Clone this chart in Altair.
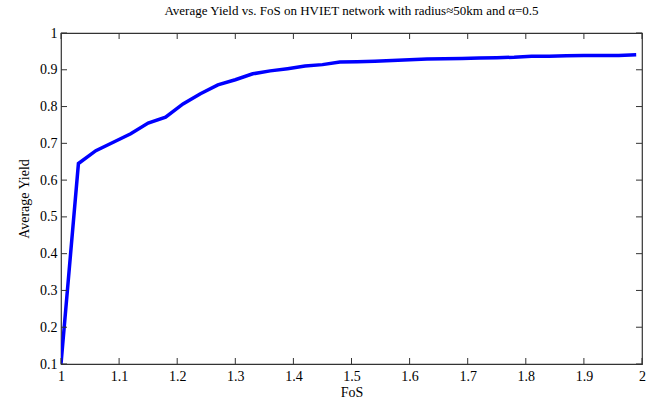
import altair as alt
import pandas as pd

fos = [1.00, 1.03, 1.06, 1.09, 1.12, 1.15, 1.18, 1.21, 1.24, 1.27, 1.30, 1.33,
       1.36, 1.39, 1.42, 1.45, 1.48, 1.51, 1.54, 1.57, 1.60, 1.63, 1.66, 1.69,
       1.72, 1.75, 1.78, 1.81, 1.84, 1.87, 1.90, 1.93, 1.96, 1.99]
avg_yield = [0.100, 0.645, 0.680, 0.703, 0.726, 0.755, 0.771, 0.807, 0.835, 0.859,
             0.873, 0.889, 0.897, 0.903, 0.910, 0.914, 0.921, 0.922, 0.923, 0.925,
             0.927, 0.929, 0.930, 0.931, 0.932, 0.933, 0.934, 0.937, 0.937, 0.938,
             0.939, 0.939, 0.939, 0.941]
x_ticks = [1, 1.1, 1.2, 1.3, 1.4, 1.5, 1.6, 1.7, 1.8, 1.9, 2]
y_ticks = [0.1, 0.2, 0.3, 0.4, 0.5, 0.6, 0.7, 0.8, 0.9, 1]

W, H = 581, 331
FONT = "'Liberation Serif', 'Times New Roman', serif"
TL = 6

df = pd.DataFrame({"FoS": fos, "Yield": avg_yield})
xt = pd.DataFrame({"t": x_ticks})
yt = pd.DataFrame({"t": y_ticks})

xscale = alt.Scale(domain=[1, 2], nice=False, zero=False)
yscale = alt.Scale(domain=[0.1, 1], nice=False, zero=False)

axis_font = dict(labelFont=FONT, labelFontSize=14, labelColor="black",
                 titleFont=FONT, titleFontSize=14, titleFontWeight="normal",
                 titleColor="black")

xaxis = alt.Axis(values=x_ticks, format="~g", title="FoS", grid=False,
                 ticks=False, domain=False, labelPadding=5,
                 labelOverlap=False, labelFlush=False,
                 titlePadding=2, **axis_font)
yaxis = alt.Axis(values=y_ticks, format="~g", title="Average Yield",
                 grid=False, ticks=False, domain=False, labelPadding=4,
                 labelOverlap=False, labelFlush=False,
                 titlePadding=8, **axis_font)

line = alt.Chart(df).mark_line(color="#0000ff", strokeWidth=3.5, clip=True).encode(
    x=alt.X("FoS:Q", scale=xscale, axis=xaxis),
    y=alt.Y("Yield:Q", scale=yscale, axis=yaxis),
)

tick_style = dict(color="#333333", strokeWidth=1)
xb = alt.Chart(xt).mark_rule(**tick_style).encode(
    x=alt.X("t:Q", scale=xscale, axis=xaxis), y=alt.value(H), y2=alt.value(H - TL))
xtop = alt.Chart(xt).mark_rule(**tick_style).encode(
    x=alt.X("t:Q", scale=xscale, axis=xaxis), y=alt.value(0), y2=alt.value(TL))
yl = alt.Chart(yt).mark_rule(**tick_style).encode(
    y=alt.Y("t:Q", scale=yscale, axis=yaxis), x=alt.value(0), x2=alt.value(TL))
yr = alt.Chart(yt).mark_rule(**tick_style).encode(
    y=alt.Y("t:Q", scale=yscale, axis=yaxis), x=alt.value(W), x2=alt.value(W - TL))

chart = alt.layer(line, xb, xtop, yl, yr).properties(
    width=W, height=H,
    background="white",
    title=alt.Title("Average Yield vs. FoS on HVIET network with radius\u224850km and \u03b1=0.5",
                    font=FONT, fontSize=13, fontWeight="normal", color="black",
                    anchor="middle", offset=8),
    autosize=alt.AutoSizeParams(type="none"),
    padding={"left": 61, "top": 33, "right": 18, "bottom": 39},
).configure_view(stroke="#333333", strokeWidth=1.2).configure_axis(**axis_font)

chart.save("out.html", embed_options={"renderer": "svg", "actions": False})
